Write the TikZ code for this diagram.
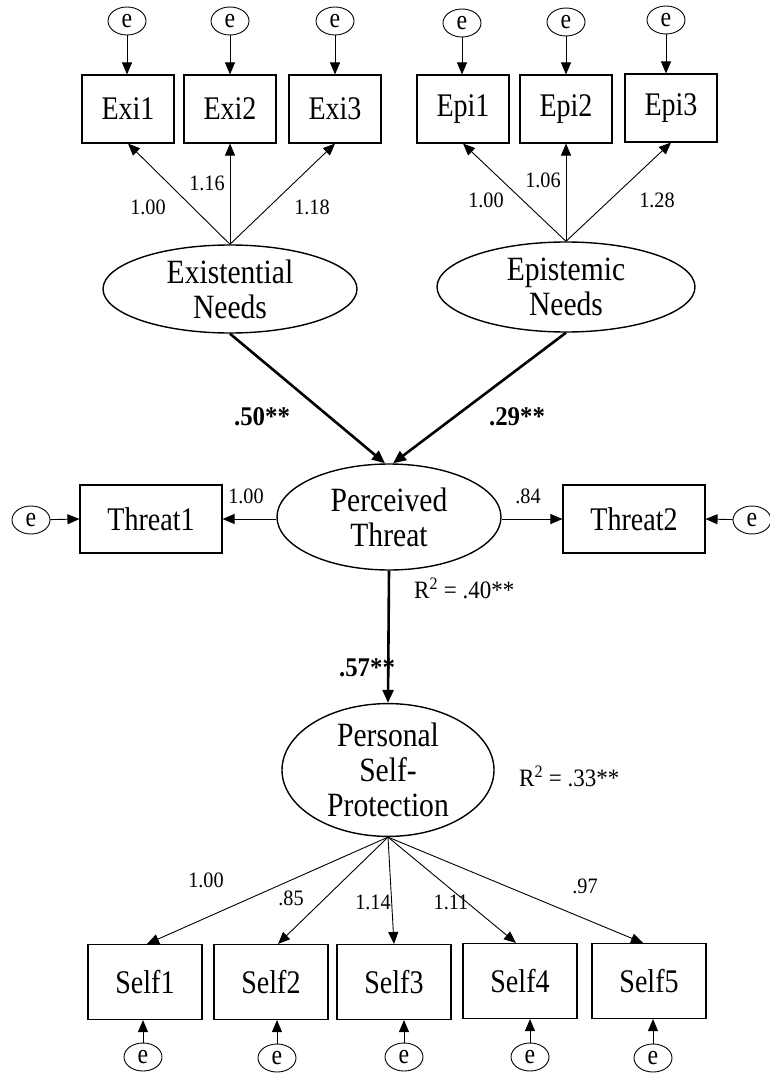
\documentclass[tikz,border=0pt]{standalone}
\usepackage{fontspec}
\setmainfont{Liberation Serif}
\newfontfamily\labfont[FakeStretch=0.85]{Liberation Serif}
\newfontfamily\latfont[FakeStretch=0.87]{Liberation Serif}
\newfontfamily\numfont[FakeStretch=0.92]{Liberation Serif}
\usetikzlibrary{shapes.geometric,arrows.meta}
\begin{document}
\begin{tikzpicture}[x=1pt,y=-1pt,
  obs/.style={draw,line width=1.1pt,minimum width=92pt,minimum height=68pt,inner sep=0pt,font=\labfont\fontsize{33}{35}\selectfont},
  obswide/.style={obs,minimum width=142pt},
  obsself/.style={obs,minimum width=114pt,minimum height=75pt},
  lat/.style={draw,ellipse,line width=1.4pt,inner sep=0pt,align=center,font=\latfont\fontsize{34}{35}\selectfont},
  err/.style={draw,ellipse,line width=0.9pt,minimum width=38pt,minimum height=28pt,inner sep=0pt,font=\labfont\fontsize{28}{28}\selectfont},
  num/.style={font=\numfont\fontsize{22}{24}\selectfont,inner sep=0pt},
  rsq/.style={font=\numfont\fontsize{25}{27}\selectfont,inner sep=0pt,anchor=west},
  coef/.style={font=\numfont\bfseries\fontsize{27}{29}\selectfont,inner sep=0pt},
  thin/.style={-{Triangle[length=12pt,width=10pt]},line width=0.9pt},
  heavy/.style={-{Triangle[length=13pt,width=11pt]},line width=2.6pt}
]
\useasboundingbox (0,0) rectangle (769,1078);

% existential indicators
\node[obs] (exi1) at (128,109) {Exi1};
\node[obs] (exi2) at (230,109) {Exi2};
\node[obs] (exi3) at (335,109) {Exi3};
\node[err] (e1) at (127,21) {e};
\node[err] (e2) at (230,21) {e};
\node[err] (e3) at (335,21) {e};

% epistemic indicators
\node[obs] (epi1) at (463,109) {Epi1};
\node[obs] (epi2) at (566,109) {Epi2};
\node[obs] (epi3) at (671,108) {Epi3};
\node[err] (e4) at (462,23) {e};
\node[err] (e5) at (566,22) {e};
\node[err] (e6) at (666,20) {e};

\foreach \a/\b in {e1/exi1,e2/exi2,e3/exi3,e4/epi1,e5/epi2,e6/epi3}
  \draw[thin] (\a.south) -- (\a.south |- \b.north);

% latent needs
\node[lat,minimum width=254pt,minimum height=88pt] (ex) at (230,289) {Existential\\Needs};
\node[lat,minimum width=258pt,minimum height=90pt] (ep) at (566,287) {Epistemic\\Needs};

\draw[thin] (ex.north) -- (exi1.south);
\draw[thin] (ex.north) -- (exi2.south);
\draw[thin] (ex.north) -- (exi3.south);
\draw[thin] (ep.north) -- (epi1.south);
\draw[thin] (ep.north) -- (epi2.south);
\draw[thin] (ep.north) -- (epi3.south);

\node[num] (l1) at (148,207) {1.00};
\node[num] (l2) at (207,183) {1.16};
\node[num] (l3) at (312,207) {1.18};
\node[num] (l4) at (486,200) {1.00};
\node[num] (l5) at (543,180) {1.06};
\node[num] (l6) at (657,200) {1.28};

% perceived threat
\node[lat,minimum width=224pt,minimum height=106pt] (pt) at (389,517) {Perceived\\Threat};
\node[obswide] (t1) at (151,519) {Threat1};
\node[obswide] (t2) at (634,519) {Threat2};
\node[err] (e7) at (31,520) {e};
\node[err] (e8) at (752,520) {e};

\draw[heavy] (ex.south) -- ([xshift=-4pt]pt.north);
\draw[heavy] (ep.south) -- ([xshift=4pt]pt.north);
\node[coef] (c1) at (262,417) {.50**};
\node[coef] (c2) at (517,417) {.29**};

\draw[thin] (pt.west |- t1.east) -- (t1.east);
\draw[thin] (pt.east |- t2.west) -- (t2.west);
\draw[thin] (e7) -- (t1.west);
\draw[thin] (e8) -- (t2.east);
\node[num] (l7) at (246,496) {1.00};
\node[num] (l8) at (528,496) {.84};
\node[rsq] (r1) at (414,588) {R\textsuperscript{2} = .40**};

% personal self-protection
\node[lat,minimum width=212pt,minimum height=130pt] (ps) at (388,770) {Personal\\Self-\\Protection};
\draw[heavy] (pt.south) -- (ps.north);
\node[coef] (c3) at (367,668) {.57**};
\node[rsq] (r2) at (519,776) {R\textsuperscript{2} = .33**};

\node[obsself] (s1) at (145,982) {Self1};
\node[obsself] (s2) at (271,982) {Self2};
\node[obsself] (s3) at (394,982) {Self3};
\node[obsself] (s4) at (520,981) {Self4};
\node[obsself] (s5) at (649,981) {Self5};
\node[err] (e9) at (143,1057) {e};
\node[err] (e10) at (277,1058) {e};
\node[err] (e11) at (404,1057) {e};
\node[err] (e12) at (530,1057) {e};
\node[err] (e13) at (653,1058) {e};

\draw[thin] (ps.south) -- ([xshift=2pt]s1.north);
\draw[thin] (ps.south) -- ([xshift=7pt]s2.north);
\draw[thin] (ps.south) -- (s3.north);
\draw[thin] (ps.south) -- ([xshift=-4pt]s4.north);
\draw[thin] (ps.south) -- ([xshift=-6pt]s5.north);
\foreach \a/\b in {e9/s1,e10/s2,e11/s3,e12/s4,e13/s5}
  \draw[thin] (\a.north) -- (\a.north |- \b.south);

\node[num] (l9) at (206,880) {1.00};
\node[num] (l10) at (291,898) {.85};
\node[num] (l11) at (373,902) {1.14};
\node[num] (l12) at (451,902) {1.11};
\node[num] (l13) at (585,886) {.97};
\end{tikzpicture}
\end{document}
